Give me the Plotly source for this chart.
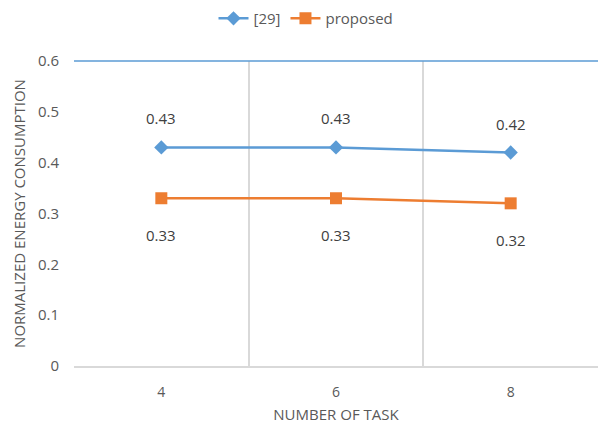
import plotly.graph_objects as go

# Data
tasks = [4, 6, 8]
ref29 = [0.43, 0.43, 0.42]
proposed = [0.33, 0.33, 0.32]
ytick_vals = [0, 0.1, 0.2, 0.3, 0.4, 0.5, 0.6]
ytick_text = ["0", "0.1", "0.2", "0.3", "0.4", "0.5", "0.6"]

blue = "#5B9BD5"
orange = "#ED7D31"
grid = "#D9D9D9"
txt = "#595959"
lbl = "#404040"
font_family = "Open Sans, Liberation Sans, Arial"

fig = go.Figure()
fig.add_trace(go.Scatter(
    x=tasks, y=ref29, name="[29]", mode="lines+markers",
    line=dict(color=blue, width=2.5),
    marker=dict(symbol="diamond", size=11, color=blue),
))
fig.add_trace(go.Scatter(
    x=tasks, y=proposed, name="proposed", mode="lines+markers",
    line=dict(color=orange, width=2.5),
    marker=dict(symbol="square", size=12, color=orange),
))

# Value labels: above the [29] points, below the proposed points
for x, v in zip(tasks, ref29):
    fig.add_annotation(x=x, y=v, text=f"{v:.2f}", showarrow=False, yshift=29,
                       font=dict(size=15, color=lbl))
for x, v in zip(tasks, proposed):
    fig.add_annotation(x=x, y=v, text=f"{v:.2f}", showarrow=False, yshift=-37,
                       font=dict(size=15, color=lbl))

fig.update_layout(
    width=600, height=424,
    margin=dict(l=74, r=2, t=61, b=58),
    paper_bgcolor="white", plot_bgcolor="white",
    font=dict(family=font_family, color=txt, size=14),
    showlegend=True,
    legend=dict(orientation="h", x=0.51, xanchor="center", xref="container",
                y=0.995, yanchor="top", yref="container",
                font=dict(size=15, color=txt)),
    xaxis=dict(
        range=[3, 9], tickvals=tasks, ticktext=[str(t) for t in tasks],
        showgrid=False, zeroline=False,
        showline=True, linecolor=grid, linewidth=1.5,
        ticks="", ticklen=0, ticklabelstandoff=12, tickfont=dict(size=14, color=txt),
        minor=dict(tick0=3, dtick=2, showgrid=True, gridcolor=grid, gridwidth=1.5,
                   ticks="", ticklen=0),
        title=dict(text="NUMBER OF TASK", font=dict(size=15, color=txt), standoff=10),
    ),
    yaxis=dict(
        range=[0, 0.6], tickvals=ytick_vals, ticktext=ytick_text,
        showgrid=False, zeroline=False, showline=False,
        ticks="", ticklen=0, ticklabelstandoff=14, tickfont=dict(size=15, color=txt),
        title=dict(text="NORMALIZED ENERGY CONSUMPTION", font=dict(size=15, color=txt), standoff=8),
    ),
)

# Blue top border of the plot area
fig.add_shape(type="line", xref="paper", yref="paper", x0=0, x1=1, y0=1, y1=1,
              line=dict(color=blue, width=1.5))

fig.write_html("out.html")
